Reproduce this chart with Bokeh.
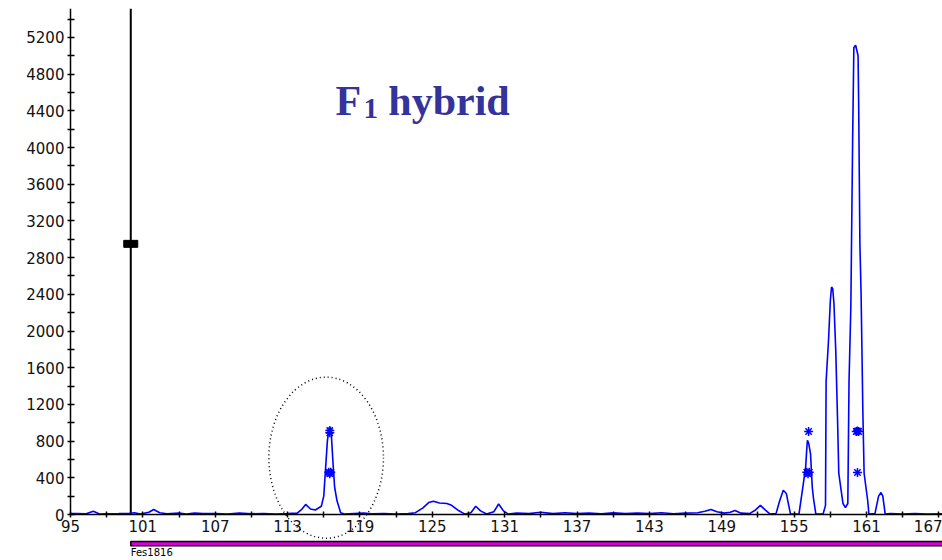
from bokeh.plotting import figure
from bokeh.models import Range1d, FixedTicker
from bokeh.core.properties import value
from bokeh.embed import file_html
from bokeh.resources import INLINE

# ---- data (size in bp, signal in RFU) ----
trace_bp = [95.0, 95.5, 96.3, 96.9, 97.4, 98.0, 99.0, 99.8, 100.3, 100.8, 101.5, 101.9, 102.4,
            103.0, 104.0, 104.6, 105.3, 106.0, 107.0, 108.0, 109.0, 110.0, 111.0, 112.0, 113.0,
            113.8, 114.2, 114.5, 114.9, 115.3, 115.8, 116.0, 116.15, 116.3, 116.45, 116.6, 116.75,
            116.9, 117.1, 117.4, 117.7, 118.5, 119.3, 120.0, 121.0, 122.0, 123.0, 123.6, 124.2,
            124.7, 125.1, 125.6, 126.2, 126.6, 127.1, 127.7, 128.2, 128.6, 129.0, 129.5, 130.1,
            130.5, 130.9, 131.3, 132.0, 133.0, 134.0, 135.0, 136.0, 137.0, 138.0, 139.0, 140.0,
            141.0, 142.0, 143.0, 144.0, 145.0, 146.0, 147.0, 147.6, 148.1, 148.6, 149.2, 149.7,
            150.1, 150.6, 151.3, 151.8, 152.2, 152.6, 153.0, 153.5, 153.8, 154.1, 154.35, 154.55,
            154.7, 155.4, 155.7, 155.95, 156.05, 156.1, 156.2, 156.36, 156.5, 156.6, 156.8, 157.4,
            157.6, 157.65, 157.85, 158.0, 158.1, 158.2, 158.3, 158.45, 158.6, 158.7, 158.9, 159.05,
            159.25, 159.45, 159.55, 159.7, 159.85, 159.95, 160.1, 160.3, 160.35, 160.45, 160.55,
            160.7, 160.8, 160.95, 161.1, 161.2, 161.7, 162.0, 162.2, 162.35, 162.55, 163.0, 164.0,
            165.0, 166.0, 167.3]
trace_rfu = [10, 12, 8, 35, 5, 8, 10, 12, 20, 5, 25, 55, 20,
             8, 15, 5, 15, 10, 12, 6, 15, 8, 12, 5, 10,
             15, 60, 110, 60, 50, 90, 200, 500, 800, 950, 940, 600,
             300, 150, 20, 5, 10, 15, 8, 12, 5, 10, 20, 70,
             130, 145, 125, 120, 100, 50, 5, 20, 90, 40, 5, 30,
             115, 40, 5, 15, 10, 25, 10, 20, 10, 15, 8, 18,
             10, 15, 10, 20, 8, 15, 20, 35, 55, 30, 15, 25,
             45, 15, 10, 50, 100, 50, 5, 10, 150, 265, 230, 100,
             5, 5, 280, 510, 720, 810, 780, 660, 300, 180, 5, 5,
             100, 1450, 1900, 2330, 2480, 2460, 2300, 1790, 1030, 450, 260, 120,
             75, 120, 1450, 2260, 4080, 5090, 5115, 5000, 4470, 2960, 2410,
             1100, 450, 300, 150, 5, 10, 200, 240, 200, 5, 10, 5,
             12, 6, 8]

star_bp = [116.5, 116.5, 116.42, 116.58, 116.5, 156.2, 156.05, 156.25, 156.15,
           160.15, 160.35, 160.25, 160.25]
star_rfu = [915, 890, 460, 460, 445, 905, 460, 460, 445, 905, 905, 910, 458]

marker_bp = [100]
marker_rfu = [2950]

circle_bp = [116.2]
circle_rfu = [620]
circle_w_bp = [9.5]
circle_h_rfu = [1755]

x_major = [95, 101, 107, 113, 119, 125, 131, 137, 143, 149, 155, 161, 167]
x_minor = [98, 104, 110, 116, 122, 128, 134, 140, 146, 152, 158, 164]
y_major = [0, 400, 800, 1200, 1600, 2000, 2400, 2800, 3200, 3600, 4000, 4400, 4800, 5200]
y_minor = [200, 600, 1000, 1400, 1800, 2200, 2600, 3000, 3400, 3800, 4200, 4600, 5000, 5400]

bin_start = [100]
bin_end = [167.5]
bin_name = ["Fes1816"]

Y_TOP = 5515
X_START = 95
X_END = 167.3
X_LEFT = 89.2   # frame starts left of the y axis so labels stay inside

p = figure(width=942, height=560, output_backend="svg", toolbar_location=None,
           x_range=Range1d(X_LEFT, X_END), y_range=Range1d(-501, Y_TOP),
           min_border_left=0, min_border_right=0, min_border_top=8, min_border_bottom=0)
p.outline_line_color = None
p.xgrid.grid_line_color = None
p.ygrid.grid_line_color = None
p.background_fill_color = "white"
p.border_fill_color = "white"

# axes
xa = p.xaxis[0]
xa.fixed_location = 0
xa.bounds = (X_START, X_END)
xa.ticker = FixedTicker(ticks=x_major, minor_ticks=x_minor)
xa.axis_line_width = 1.5
xa.axis_line_color = "black"
xa.major_tick_in = 3
xa.major_tick_out = 3
xa.minor_tick_in = 3
xa.minor_tick_out = 3
xa.major_tick_line_width = 1.5
xa.minor_tick_line_width = 1.5
xa.major_label_text_font = "DejaVu Sans"
xa.major_label_text_font_size = "15px"
xa.major_label_text_color = "#111111"
xa.major_label_standoff = 2

ya = p.yaxis[0]
ya.fixed_location = X_START
ya.bounds = (0, Y_TOP)
ya.ticker = FixedTicker(ticks=y_major, minor_ticks=y_minor)
ya.axis_line_width = 1.5
ya.axis_line_color = "black"
ya.major_tick_in = 4
ya.major_tick_out = 3
ya.minor_tick_in = 4
ya.minor_tick_out = 3
ya.major_tick_line_width = 1.5
ya.minor_tick_line_width = 1.5
ya.major_label_text_font = "DejaVu Sans"
ya.major_label_text_font_size = "15px"
ya.major_label_text_color = "#111111"
ya.major_label_standoff = 3

# black size-standard line and marker
p.segment(x0=marker_bp, y0=[0], x1=marker_bp, y1=[Y_TOP], line_color="black", line_width=2)
p.rect(x=marker_bp, y=marker_rfu, width=14, height=7, width_units="screen",
       height_units="screen", fill_color="black", line_color="black")

# trace
p.line(trace_bp, trace_rfu, line_color="#0000ff", line_width=1.6)
p.scatter(star_bp, star_rfu, marker="asterisk", size=9, line_color="#0000ff", line_width=1.5)

# dotted circle
p.ellipse(x=circle_bp, y=circle_rfu, width=circle_w_bp, height=circle_h_rfu,
          fill_color=None, line_color="black", line_width=1.5, line_dash="1 3")

# bin bar
p.quad(left=bin_start, right=bin_end, top=[-295], bottom=[-340],
       fill_color="#d800d8", line_color="black", line_width=1.5)
p.text(x=bin_start, y=[-358], text=bin_name, text_font=value("DejaVu Sans"),
       text_font_size="10px", text_baseline="top", text_align="left", text_color="black")

# title
p.text(x=[116.97], y=[4510], text=["F"], text_font=value("Liberation Serif"),
       text_font_style="bold", text_font_size="42px", text_color="#333399",
       text_baseline="alphabetic", text_align="left")
p.text(x=[119.3], y=[4420], text=["1"], text_font=value("Liberation Serif"),
       text_font_style="bold", text_font_size="29px", text_color="#333399",
       text_baseline="alphabetic", text_align="left")
p.text(x=[121.35], y=[4510], text=["hybrid"], text_font=value("Liberation Serif"),
       text_font_style="bold", text_font_size="42px", text_color="#333399",
       text_baseline="alphabetic", text_align="left")

open("out.html", "w").write(file_html(p, INLINE))
